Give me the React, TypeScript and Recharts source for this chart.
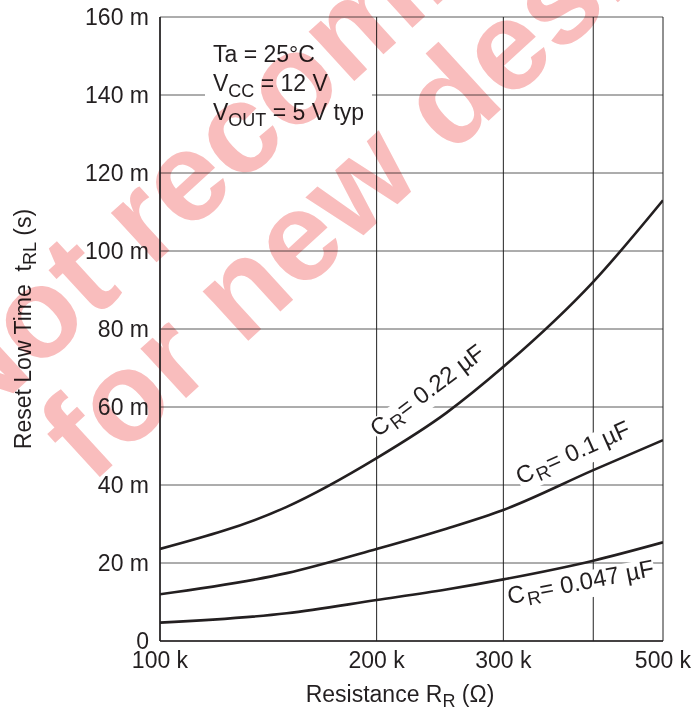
import { LineChart, Line, XAxis, YAxis, CartesianGrid } from 'recharts';

const FONT = '"Liberation Sans", Arial, Helvetica, sans-serif';
const INK = '#231f20';

// resistance in ohms, reset low time in ms
const resistance = [100000, 150000, 200000, 250000, 300000, 400000, 500000];
const cr022 = [23.6, 34.4, 46.9, 58.5, 70.3, 92.1, 113];
const cr01 = [12.0, 17.4, 23.6, 28.8, 33.6, 43.8, 51.5];
const cr0047 = [4.7, 7.1, 10.5, 13.2, 15.8, 20.6, 25.3];

const xTicks = [100000, 200000, 300000, 400000, 500000];
const xTickLabels = ['100 k', '200 k', '300 k', '', '500 k'];
const yTicks = [0, 20, 40, 60, 80, 100, 120, 140, 160];
const yTickLabels = ['0', '20 m', '40 m', '60 m', '80 m', '100 m', '120 m', '140 m', '160 m'];

const data = resistance.map((r, i) => ({ r, a: cr022[i], b: cr01[i], c: cr0047[i] }));

const CurveLabel = ({ x, y, angle, cap, w }: { x: number; y: number; angle: number; cap: string; w: number }) => (
  <g transform={`translate(${x},${y}) rotate(${angle})`}>
    <rect x={-w / 2} y={-18} width={w} height={27} fill="#fff" />
    <text x={0} y={0} textAnchor="middle" fontSize={24} fill={INK} fontFamily={FONT}>
      C<tspan fontSize={19} dx={2} dy={5}>R</tspan>
      <tspan dy={-5}>= {cap} µF</tspan>
    </text>
  </g>
);

const Annotations = () => (
  <g fontFamily={FONT} fill={INK} fontSize={23}>
    <rect x={205} y={30} width={167} height={100} fill="#fff" />
    <text x={213} y={62}>Ta = 25°C</text>
    <text x={213} y={91}>
      V<tspan fontSize={18} dy={6}>CC</tspan>
      <tspan dy={-6}> = 12 V</tspan>
    </text>
    <text x={213} y={120}>
      V<tspan fontSize={18} dy={6}>OUT</tspan>
      <tspan dy={-6}> = 5 V typ</tspan>
    </text>
    <text transform="translate(31,329) rotate(-90)" textAnchor="middle">
      {'Reset Low Time\u00a0\u00a0t'}
      <tspan fontSize={18} dy={5}>RL</tspan>
      <tspan dy={-5}> (s)</tspan>
    </text>
    <text x={400} y={702} textAnchor="middle">
      Resistance R<tspan fontSize={18} dy={5}>R</tspan>
      <tspan dy={-5}> (Ω)</tspan>
    </text>
  </g>
);

const Watermark = () => (
  <g
    fontFamily={FONT}
    fontWeight="bold"
    fontSize={127}
    fill="#f9bdbd"
    style={{ mixBlendMode: 'multiply' }}
  >
    <text transform="translate(-32,435) rotate(-42.5)">Not recommended</text>
    <text transform="translate(91,485) rotate(-42.5)">for new designs</text>
  </g>
);

export default function App() {
  return (
    <div style={{ position: 'absolute', left: 0, top: 0, width: 697, height: 710, background: '#fff' }}>
      <LineChart
        width={697}
        height={710}
        data={data}
        margin={{ top: 17, right: 34, bottom: 0, left: 0 }}
      >
        <CartesianGrid stroke="#5a5a5a" strokeWidth={1} vertical={false} />
        <CartesianGrid stroke="#222" strokeWidth={1} horizontal={false} />
        <XAxis
          dataKey="r"
          type="number"
          scale="log"
          domain={[100000, 500000]}
          ticks={xTicks}
          tickFormatter={(v: number) => xTickLabels[xTicks.indexOf(v)] ?? ''}
          tickLine={false}
          tickMargin={5}
          height={69}
          axisLine={{ stroke: INK, strokeWidth: 1.5 }}
          tick={{ fill: INK, fontSize: 23, fontFamily: FONT }}
          interval={0}
          allowDataOverflow
        />
        <YAxis
          type="number"
          domain={[0, 160]}
          ticks={yTicks}
          tickFormatter={(v: number) => yTickLabels[yTicks.indexOf(v)] ?? ''}
          tickLine={false}
          tickMargin={5}
          width={160}
          axisLine={{ stroke: INK, strokeWidth: 1.5 }}
          tick={{ fill: INK, fontSize: 23, fontFamily: FONT }}
          interval={0}
        />
        <Annotations />
        <CurveLabel x={432} y={397} angle={-37} cap="0.22" w={136} />
        <CurveLabel x={576} y={460} angle={-24} cap="0.1" w={122} />
        <CurveLabel x={582} y={590} angle={-11} cap="0.047" w={150} />
        <Line type="monotone" dataKey="a" stroke={INK} strokeWidth={2.6} dot={false} isAnimationActive={false} />
        <Line type="monotone" dataKey="b" stroke={INK} strokeWidth={2.6} dot={false} isAnimationActive={false} />
        <Line type="monotone" dataKey="c" stroke={INK} strokeWidth={2.6} dot={false} isAnimationActive={false} />
        <Watermark />
      </LineChart>
    </div>
  );
}
